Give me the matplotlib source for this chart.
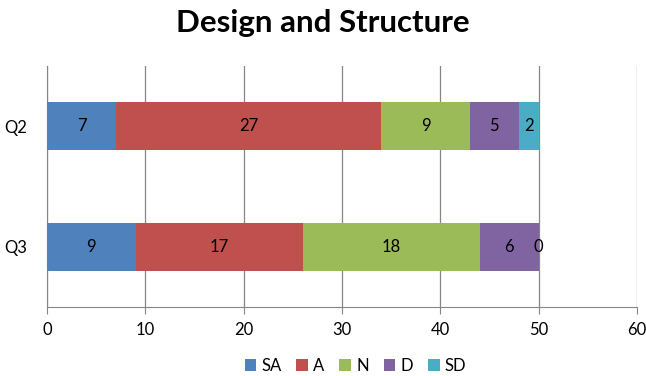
import matplotlib.pyplot as plt
import numpy as np

plt.rcParams['font.family'] = ['Lato', 'DejaVu Sans']

questions = ['Q3', 'Q2']
series = ['SA', 'A', 'N', 'D', 'SD']
values = {
    'SA': [9, 7],
    'A': [17, 27],
    'N': [18, 9],
    'D': [6, 5],
    'SD': [0, 2],
}
colors = ['#4F81BD', '#C0504D', '#9BBB59', '#8064A2', '#4BACC6']

fig = plt.figure(figsize=(6.46, 3.76), dpi=100)
ax = fig.add_axes([0.0728, 0.1835, 0.9132, 0.641])

y = np.arange(len(questions))
left = np.zeros(len(questions))
for name, color in zip(series, colors):
    vals = np.array(values[name])
    ax.barh(y, vals, left=left, height=0.4, color=color, label=name, zorder=3)
    for yi, l, v in zip(y, left, vals):
        ax.text(l + v / 2, yi, str(v), ha='center', va='center', fontsize=12, color='black', zorder=4)
    left += vals

ax.set_xlim(0, 60)
ax.set_ylim(-0.5, 1.5)
ax.set_xticks(range(0, 61, 10))
ax.set_yticks(y)
ax.set_yticklabels(questions)
ax.xaxis.grid(True, color='#868686', linewidth=0.9, zorder=0)
for side in ['top', 'right']:
    ax.spines[side].set_visible(False)
for side in ['left', 'bottom']:
    ax.spines[side].set_color('#868686')
ax.tick_params(axis='x', length=5, color='#868686', labelsize=12, pad=6)
ax.tick_params(axis='y', length=0, labelsize=12, pad=14)

fig.suptitle('Design and Structure', fontsize=22.5, fontweight='bold', y=0.975)
fig.legend(loc='lower center', ncol=5, frameon=False, fontsize=12,
           handlelength=0.7, handleheight=0.7, handletextpad=0.3, columnspacing=0.9,
           bbox_to_anchor=(0.55, -0.035))

fig.savefig('out.png', dpi=100)
